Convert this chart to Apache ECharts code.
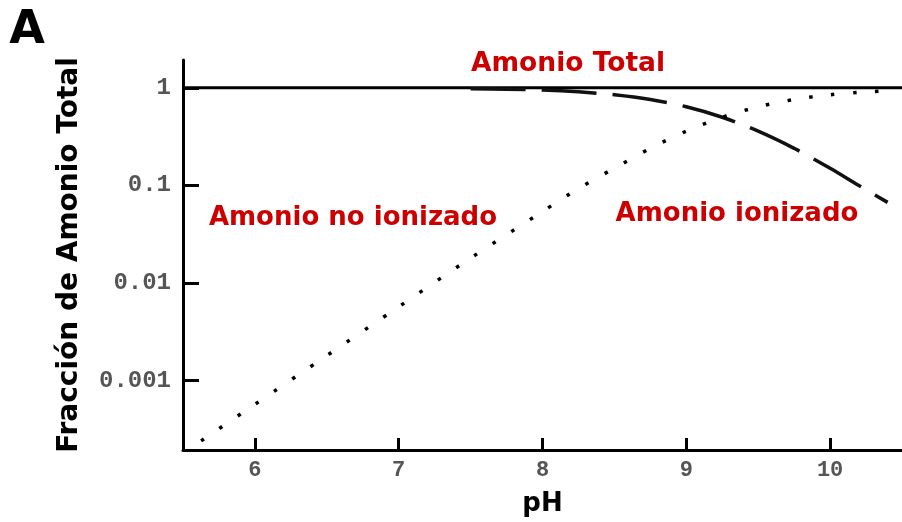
<!DOCTYPE html>
<html>
<head>
<meta charset="utf-8">
<script src="https://cdn.jsdelivr.net/npm/echarts@6/dist/echarts.min.js"></script>
<style>
  html, body { margin: 0; padding: 0; background: #fff; }
  #chart { width: 902px; height: 522px; }
</style>
</head>
<body>
<div id="chart"></div>
<script>
// pH grid for the un-ionized (NH3) fraction
const phUnionized = [5.5, 6.0, 6.5, 7.0, 7.5, 8.0, 8.25, 8.5, 8.75, 9.0, 9.25, 9.5, 9.75, 10.0, 10.2, 10.4];
const fracUnionized = [0.00018, 0.00057, 0.0018, 0.0057, 0.018, 0.054, 0.093, 0.15, 0.24, 0.36, 0.5, 0.64, 0.76, 0.85, 0.9, 0.93];

// pH grid for the ionized (NH4+) fraction
const phIonized = [7.5, 7.75, 8.0, 8.25, 8.5, 8.75, 9.0, 9.25, 9.5, 9.75, 10.0, 10.2, 10.4];
const fracIonized = [0.98, 0.97, 0.95, 0.91, 0.85, 0.76, 0.64, 0.5, 0.36, 0.24, 0.15, 0.1, 0.067];

// total ammonia (always the whole)
const phTotal = [5.5, 10.5];
const fracTotal = [1, 1];

// axis ticks
const phTicks = [6, 7, 8, 9, 10];
const fracTicks = [0.001, 0.01, 0.1, 1];

const pairs = (xs, ys) => xs.map((x, i) => [x, ys[i]]);

const RED = '#cc0000';
const BOLD = 'DejaVu Sans';
const MONO = 'Liberation Mono';

const chart = echarts.init(document.getElementById('chart'), null, { renderer: 'canvas' });

chart.setOption({
  animation: false,
  backgroundColor: '#ffffff',
  grid: { left: 183, right: 0, top: 60, bottom: 69, containLabel: false },
  xAxis: {
    type: 'value',
    min: 5.5,
    max: 10.5,
    name: 'pH',
    nameLocation: 'middle',
    nameGap: 41,
    nameTextStyle: { fontFamily: BOLD, fontWeight: 'bold', fontSize: 26, color: '#000' },
    axisLine: { show: true, onZero: false, lineStyle: { color: '#000', width: 3 } },
    axisTick: { show: true, inside: true, length: 12, customValues: phTicks, lineStyle: { color: '#000', width: 3 } },
    axisLabel: {
      customValues: phTicks,
      margin: 9,
      fontFamily: MONO, fontWeight: 'bold', fontSize: 22, color: '#555'
    },
    splitLine: { show: false }
  },
  yAxis: {
    type: 'log',
    logBase: 10,
    min: 0.000194,
    max: 1.93,
    name: 'Fracción de Amonio Total',
    nameLocation: 'middle',
    nameRotate: 90,
    nameGap: 99,
    nameTextStyle: { fontFamily: BOLD, fontWeight: 'bold', fontSize: 28, color: '#000' },
    axisLine: { show: true, lineStyle: { color: '#000', width: 3 } },
    axisTick: { show: true, inside: true, length: 16, customValues: fracTicks, lineStyle: { color: '#000', width: 3 } },
    axisLabel: {
      customValues: fracTicks,
      margin: 12,
      formatter: v => String(+v.toPrecision(3)),
      fontFamily: MONO, fontWeight: 'bold', fontSize: 24, color: '#555'
    },
    splitLine: { show: false }
  },
  series: [
    {
      name: 'Amonio Total',
      type: 'line',
      data: pairs(phTotal, fracTotal),
      symbol: 'none',
      lineStyle: { color: '#000', width: 3, type: 'solid' },
      z: 3
    },
    {
      name: 'Amonio ionizado',
      type: 'line',
      data: pairs(phIonized, fracIonized),
      symbol: 'none',
      smooth: 0.3,
      lineStyle: { color: '#111', width: 3.5, type: [55, 16], cap: 'butt' },
      z: 4
    },
    {
      name: 'Amonio no ionizado',
      type: 'line',
      data: pairs(phUnionized, fracUnionized),
      symbol: 'none',
      smooth: 0.3,
      lineStyle: { color: '#000', width: 3.5, type: [3.5, 18.5], cap: 'butt' },
      z: 4
    }
  ],
  graphic: [
    {
      type: 'text', x: 27, y: 31,
      style: { text: 'A', align: 'center', verticalAlign: 'middle',
               font: 'bold 46px "DejaVu Sans"', fill: '#000' }
    },
    {
      type: 'text', x: 568, y: 64,
      style: { text: 'Amonio Total', align: 'center', verticalAlign: 'middle',
               font: 'bold 26.5px "DejaVu Sans"', fill: RED }
    },
    {
      type: 'text', x: 353, y: 218,
      style: { text: 'Amonio no ionizado', align: 'center', verticalAlign: 'middle',
               font: 'bold 26px "DejaVu Sans"', fill: RED }
    },
    {
      type: 'text', x: 737, y: 214,
      style: { text: 'Amonio ionizado', align: 'center', verticalAlign: 'middle',
               font: 'bold 26px "DejaVu Sans"', fill: RED }
    }
  ]
});
</script>
</body>
</html>
